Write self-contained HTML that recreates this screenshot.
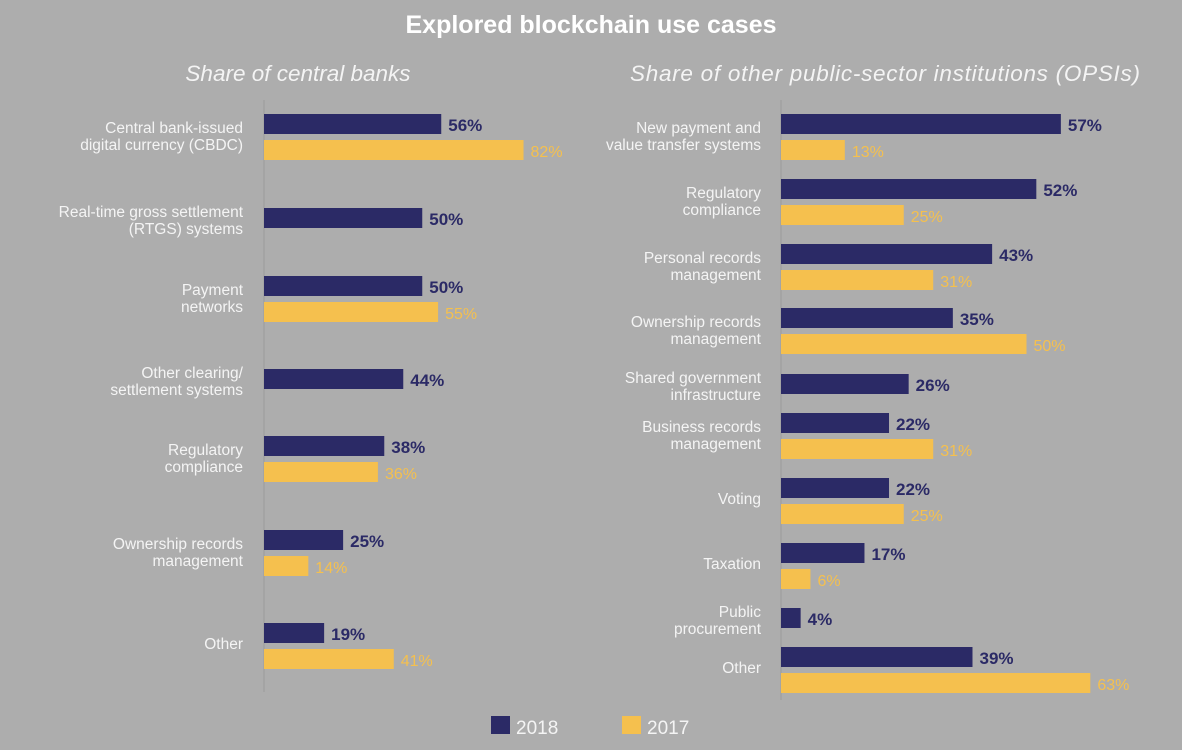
<!DOCTYPE html>
<html><head><meta charset="utf-8"><style>
body{margin:0;background:#adadad;}
svg{display:block;font-family:"Liberation Sans",sans-serif;}
.l{fill:#f4f4f4;font-size:15.5px;text-anchor:end;}
.n{fill:#2b2a66;font-size:17px;font-weight:bold;}
.y{fill:#f5c04e;font-size:16px;}
</style></head><body>
<svg width="1182" height="750" viewBox="0 0 1182 750">
<rect width="1182" height="750" fill="#adadad"/>
<text x="591" y="33" fill="#fff" font-size="25" font-weight="bold" text-anchor="middle">Explored blockchain use cases</text>
<text x="298" y="81" fill="#f4f4f4" font-size="22.5" font-style="italic" text-anchor="middle">Share of central banks</text>
<text x="885" y="81" fill="#f4f4f4" font-size="22.5" font-style="italic" text-anchor="middle" textLength="510">Share of other public-sector institutions (OPSIs)</text>
<line x1="264" y1="100" x2="264" y2="692" stroke="#9a9a9a"/>
<line x1="781" y1="100" x2="781" y2="700" stroke="#9a9a9a"/>
<g id="c"></g>
<rect x="491" y="716" width="19" height="18" fill="#2b2a66"/>
<text x="516" y="734" fill="#f4f4f4" font-size="19">2018</text>
<rect x="622" y="716" width="19" height="18" fill="#f5c04e"/>
<text x="647" y="734" fill="#f4f4f4" font-size="19">2017</text>
</svg>
<script>
var L=[["Central bank-issued|digital currency (CBDC)",114,56,82],["Real-time gross settlement|(RTGS) systems",208,50,null],["Payment|networks",276,50,55],["Other clearing/|settlement systems",369,44,null],["Regulatory|compliance",436,38,36],["Ownership records|management",530,25,14],["Other",623,19,41]];
var R=[["New payment and|value transfer systems",114,57,13],["Regulatory|compliance",179,52,25],["Personal records|management",244,43,31],["Ownership records|management",308,35,50],["Shared government|infrastructure",374,26,null],["Business records|management",413,22,31],["Voting",478,22,25],["Taxation",543,17,6],["Public|procurement",608,4,null],["Other",647,39,63]];
var s="";
function draw(D,x0,k,lx){D.forEach(function(d){var t=d[1],lines=d[0].split("|");
var w=d[2]*k;s+='<rect x="'+x0+'" y="'+t+'" width="'+w+'" height="20" fill="#2b2a66"/>';
s+='<text class="n" x="'+(x0+w+7)+'" y="'+(t+17)+'">'+d[2]+'%</text>';
if(d[3]!=null){var w2=d[3]*k;s+='<rect x="'+x0+'" y="'+(t+26)+'" width="'+w2+'" height="20" fill="#f5c04e"/>';
s+='<text class="y" x="'+(x0+w2+7)+'" y="'+(t+43)+'">'+d[3]+'%</text>';}
var c;if(lines.length==1)c=[t+26];else if(d[3]!=null)c=[t+19,t+36];else c=[t+9,t+26];
lines.forEach(function(l,i){s+='<text class="l" x="'+lx+'" y="'+c[i]+'">'+l+'</text>';});});}
draw(L,264,3.165,243);draw(R,781,4.91,761);
document.getElementById("c").innerHTML=s;
</script>
</body></html>
